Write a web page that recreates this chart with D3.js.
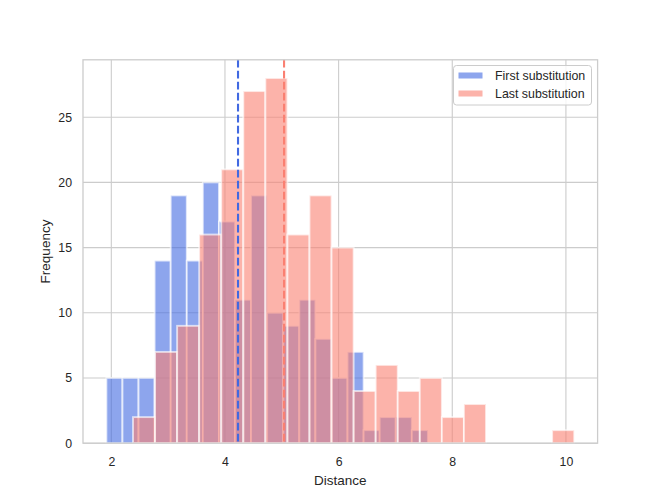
<!DOCTYPE html>
<html>

<head>
    <meta charset="utf-8">
    <script src="https://d3js.org/d3.v7.min.js" charset="utf-8"></script>
    <style>
        body { margin: 0; background: #fff; }
        svg text { font-family: "Liberation Sans", Arial, sans-serif; fill: #262626; }
    </style>
</head>

<body>
    <div id="chart_container"></div>
    <script>
        // Histogram counts (20 bins each)
        var firstCounts = [5, 5, 5, 14, 19, 14, 20, 17, 11, 19, 10, 9, 11, 8, 5, 7, 1, 2, 2, 1];
        var firstStart = 1.9135, firstBinWidth = 0.2829;
        var lastCounts = [2, 7, 9, 16, 21, 27, 28, 16, 19, 15, 4, 6, 4, 5, 2, 3, 0, 0, 0, 1];
        var lastStart = 2.382, lastBinWidth = 0.3882;
        var means = [4.23, 5.04];
        var seriesNames = ['First substitution', 'Last substitution'];
        var seriesColors = ['royalblue', 'salmon'];
        var xTicks = [2, 4, 6, 8, 10];
        var yTicks = [0, 5, 10, 15, 20, 25];

        var width = 664,
            height = 498;
        var margin = { top: 59.8, right: 66.4, bottom: 54.8, left: 83 };

        var svg = d3.select('#chart_container')
            .append('svg')
            .attr('width', width)
            .attr('height', height);

        // turn counts into bins
        const toBins = (counts, start, w) => counts.map((c, i) => ({ x0: start + i * w, x1: start + (i + 1) * w, n: c }));
        var series = [toBins(firstCounts, firstStart, firstBinWidth), toBins(lastCounts, lastStart, lastBinWidth)];

        var dataMin = firstStart, dataMax = lastStart + lastCounts.length * lastBinWidth;
        var pad = (dataMax - dataMin) * 0.05;
        var x = d3.scaleLinear()
            .domain([dataMin - pad, dataMax + pad])
            .range([margin.left, width - margin.right]);
        var yMax = d3.max(series, s => d3.max(s, d => d.n)) * 1.05;
        var y = d3.scaleLinear()
            .domain([0, yMax])
            .range([height - margin.bottom, margin.top]);

        // grid
        svg.append('g')
            .selectAll('line.vx')
            .data(xTicks).enter().append('line')
            .attr('x1', d => x(d)).attr('x2', d => x(d))
            .attr('y1', margin.top).attr('y2', height - margin.bottom)
            .attr('stroke', '#cccccc').attr('stroke-width', 1.1);
        svg.append('g')
            .selectAll('line.hy')
            .data(yTicks).enter().append('line')
            .attr('y1', d => y(d)).attr('y2', d => y(d))
            .attr('x1', margin.left).attr('x2', width - margin.right)
            .attr('stroke', '#cccccc').attr('stroke-width', 1.1);

        // bars
        series.forEach((s, i) => {
            svg.append('g')
                .selectAll('rect')
                .data(s.filter(d => d.n > 0)).enter().append('rect')
                .attr('x', d => x(d.x0))
                .attr('width', d => x(d.x1) - x(d.x0))
                .attr('y', d => y(d.n))
                .attr('height', d => y(0) - y(d.n))
                .attr('fill', seriesColors[i])
                .attr('fill-opacity', 0.6)
                .attr('stroke', 'white')
                .attr('stroke-opacity', 0.65)
                .attr('stroke-width', 1.9);
        });

        // mean lines
        svg.append('g')
            .selectAll('line')
            .data(means).enter().append('line')
            .attr('x1', d => x(d)).attr('x2', d => x(d))
            .attr('y1', margin.top).attr('y2', height - margin.bottom)
            .attr('stroke', (d, i) => seriesColors[i])
            .attr('stroke-width', 2.1)
            .attr('stroke-dasharray', '7.7,3.3');

        // frame
        svg.append('rect')
            .attr('x', margin.left).attr('y', margin.top)
            .attr('width', width - margin.left - margin.right)
            .attr('height', height - margin.top - margin.bottom)
            .attr('fill', 'none').attr('stroke', '#cccccc').attr('stroke-width', 1.3);

        // axes
        var xAxis = d3.axisBottom(x).tickValues(xTicks).tickSize(0).tickPadding(14);
        var gx = svg.append('g')
            .attr('transform', 'translate(0,' + (height - margin.bottom) + ')')
            .call(xAxis);
        var yAxis = d3.axisLeft(y).tickValues(yTicks).tickSize(0).tickPadding(11);
        var gy = svg.append('g')
            .attr('transform', 'translate(' + margin.left + ',0)')
            .call(yAxis);
        [gx, gy].forEach(g => {
            g.select('.domain').remove();
            g.selectAll('text').style('font-size', '12.3px').style('fill', '#262626')
                .style('font-family', '"Liberation Sans", Arial, sans-serif');
        });

        svg.append('text')
            .attr('x', (margin.left + width - margin.right) / 2)
            .attr('y', 485)
            .attr('text-anchor', 'middle')
            .style('font-size', '13.5px')
            .text('Distance');
        svg.append('text')
            .attr('transform', 'translate(50,' + ((margin.top + height - margin.bottom) / 2) + ') rotate(-90)')
            .attr('text-anchor', 'middle')
            .style('font-size', '13.5px')
            .text('Frequency');

        // legend
        var legend = svg.append('g');
        legend.append('rect')
            .attr('x', 453.5).attr('y', 65.5)
            .attr('width', 138).attr('height', 39.5)
            .attr('rx', 3)
            .attr('fill', 'white').attr('fill-opacity', 0.8)
            .attr('stroke', '#cccccc').attr('stroke-width', 1);
        seriesNames.forEach((name, i) => {
            legend.append('rect')
                .attr('x', 458.5).attr('y', 72.5 + i * 18)
                .attr('width', 24).attr('height', 6)
                .attr('fill', seriesColors[i]).attr('fill-opacity', 0.6);
            legend.append('text')
                .attr('x', 495).attr('y', 80 + i * 18)
                .style('font-size', '12.4px')
                .text(name);
        });
    </script>
</body>

</html>
